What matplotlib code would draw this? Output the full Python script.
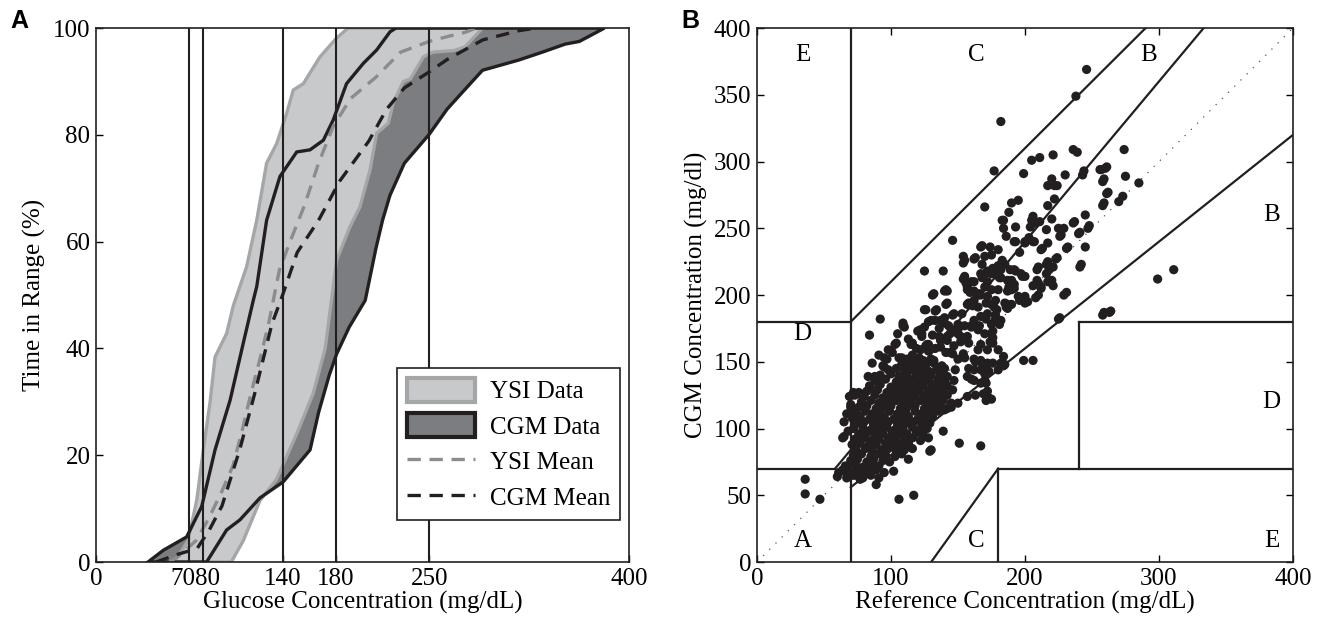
import numpy as np
import matplotlib
matplotlib.use("Agg")
import matplotlib.pyplot as plt
import matplotlib.transforms as mtransforms
from matplotlib.patches import Patch
from matplotlib.lines import Line2D

plt.rcParams['font.family'] = ['Liberation Serif', 'DejaVu Serif']
plt.rcParams['font.size'] = 18

# ---- panel A: cumulative time-in-range curves ----
ysi_hi_x = [59, 69, 75.6, 80.5, 85.6, 89.3, 98, 103, 113, 120.6, 128, 135.6, 143, 148, 155.6, 168, 180, 189]
ysi_hi_y = [0, 4, 11.6, 21, 30, 38.4, 42.8, 48, 55.3, 64, 74.7, 78.4, 84, 88.4, 89.6, 94.6, 98, 100]
ysi_lo_x = [101.5, 110.5, 123, 135.5, 150.6, 163, 172, 175.6, 180.6, 190.6, 198, 205.6, 210.6, 219.4, 223,
            230.6, 236, 245.6, 252.8, 268.7, 277, 290]
ysi_lo_y = [0, 4, 11.5, 15.5, 24, 31.6, 40, 47, 56.6, 62.8, 66.5, 73.4, 80.3, 82.2, 86, 90, 90.5, 94.6, 95.5,
            95.8, 96.5, 100]
cgm_hi_x = [39, 50.5, 68, 79.3, 89.3, 100.6, 110.5, 118, 120.6, 128, 138, 150.6, 160.6, 170.6, 178, 188,
            200.6, 210.6, 220.6, 225]
cgm_hi_y = [0, 2.2, 4.7, 10.4, 21, 30.3, 41, 49, 51.6, 64, 72.2, 76.8, 77.2, 79, 82.8, 89.6, 93.4, 95.9, 99.3, 100]
cgm_lo_x = [83, 98, 108, 123, 140.4, 160.6, 167, 175, 180.6, 190, 202, 210, 215, 220.6, 231.4, 250, 263.4,
            275, 290, 317, 335, 352, 362.7, 381.5]
cgm_lo_y = [0, 6, 7.9, 12, 15, 21, 28, 35, 39, 44, 49, 58.7, 64, 68.7, 74.7, 80.1, 84.8, 88, 92.1, 94, 95.5,
            97, 97.5, 100]
ysi_mean_x = [55, 62.5, 75, 84, 94, 102.7, 110, 116, 123, 129.5, 137.6, 145.6, 156.3, 167, 177.8, 191, 210,
              228.6, 250, 265, 277, 285]
ysi_mean_y = [0, 1.2, 4, 7.9, 13, 18, 25, 31.3, 38, 44.6, 54.7, 60, 66.7, 74.7, 81.5, 86.8, 90.8, 95.5, 97.5,
              98.5, 99.2, 100]
cgm_mean_x = [45, 62, 75.8, 85, 94.5, 108, 118.8, 132, 140, 151, 167, 183, 204.6, 218, 231.4, 250, 263.4,
              290.3, 317, 330]
cgm_mean_y = [0, 1.5, 2.5, 6, 10.5, 21.2, 31.3, 44.6, 50, 58, 64, 71.4, 78.8, 84.8, 88.8, 91.8, 94.1, 97.8,
              99.5, 100]
thresholds = [70, 80, 140, 180, 250]
a_xticks = [0, 70, 80, 140, 180, 250, 400]

# ---- panel B: Clarke error grid scatter (reference, cgm) ----
upper_pts = [(246, 369), (238, 349), (182, 330), (177, 293), (236, 309), (239, 307), (221, 305), (211, 303),
             (205, 301), (199, 291), (274, 309), (261, 296), (257, 294), (244, 293), (243, 290), (230, 290),
             (220, 287), (217, 282), (222, 282), (224, 282), (259, 287), (275, 289), (285, 284), (262, 277),
             (273, 274), (170, 266), (195, 271), (222, 272), (190, 269), (217, 267), (188, 262), (205, 256),
             (207, 255), (211, 255), (206, 259), (220, 257), (184, 256), (184, 250), (193, 251), (186, 244),
             (193, 240), (200, 240), (203, 243), (207, 240), (217, 239), (237, 255), (245, 260), (248, 252),
             (241, 247), (225, 250), (229, 250), (227, 245), (259, 269), (270, 270), (258, 267), (146, 241),
             (183, 256), (208, 254), (204, 251), (216, 249), (226, 244), (236, 254), (240, 246), (247, 250),
             (245, 236), (231, 235), (125, 218), (213, 235), (196, 232), (260, 295), (256, 294), (258, 285),
             (261, 276)]
mid_pts = [(139, 218), (174, 236), (180, 234), (168, 237), (170, 229), (163, 228), (155, 226), (183, 226),
           (185, 223), (182, 219), (177, 219), (175, 216), (170, 216), (168, 213), (172, 210), (181, 213),
           (190, 211), (193, 218), (197, 216), (200, 214), (192, 208), (190, 204), (195, 199), (200, 199),
           (175, 204), (170, 206), (162, 210), (155, 214), (156, 209), (157, 204), (165, 200), (141, 204),
           (210, 209), (212, 206), (220, 211), (210, 200), (231, 202), (224, 228), (217, 225), (242, 223),
           (210, 221), (218, 219), (232, 236), (241, 221), (223, 227), (221, 221), (216, 223), (216, 216),
           (217, 210), (221, 207), (209, 219), (209, 211), (212, 205), (206, 207), (208, 198), (200, 194),
           (198, 214), (192, 219), (192, 240), (200, 239), (206, 240), (212, 234), (188, 206), (186, 191),
           (175, 230), (167, 236), (162, 227), (168, 223), (154, 224), (176, 220), (179, 215), (180, 222),
           (154, 212), (159, 202), (162, 203), (166, 201), (172, 199), (157, 193), (161, 192), (175, 193),
           (178, 196), (160, 210), (157, 206), (167, 200), (162, 196), (158, 194), (165, 191), (171, 194),
           (180, 204), (187, 203), (192, 205), (185, 194), (187, 190), (187, 211), (167, 216), (172, 218),
           (189, 219), (154, 229), (182, 213)]
lower_mid_pts = [(171, 182), (178, 182), (175, 178), (160, 177), (166, 177), (155, 177), (147, 173), (140, 183),
                 (140, 179), (133, 181), (128, 180), (133, 188), (141, 193), (140, 203), (131, 200), (146, 185),
                 (150, 178), (152, 169), (150, 171), (142, 169), (142, 166), (136, 175), (136, 169), (126, 189),
                 (120, 173), (123, 169), (109, 177), (110, 176), (103, 163), (98, 159), (91, 155), (97, 152),
                 (95, 153), (94, 147), (106, 153), (115, 163), (116, 155), (112, 146), (118, 149), (121, 153),
                 (126, 162), (128, 163), (132, 151), (144, 157), (150, 152), (154, 156), (148, 144), (158, 145),
                 (162, 152), (160, 137), (168, 149), (171, 148), (170, 141), (171, 134), (163, 125), (169, 126),
                 (171, 121), (175, 171), (174, 165), (184, 154), (185, 148), (226, 183), (259, 187), (264, 188),
                 (187, 193), (190, 193), (196, 196), (202, 195), (177, 191), (178, 185), (182, 181), (181, 178),
                 (176, 168), (92, 182), (84, 170), (109, 179), (122, 174), (125, 189), (132, 201), (142, 203),
                 (142, 194), (134, 189), (130, 181), (137, 181), (147, 186), (104, 164), (116, 164), (123, 171),
                 (86, 149), (95, 146), (88, 139), (91, 134), (108, 153), (117, 153), (122, 159), (127, 163),
                 (128, 158), (133, 160), (137, 161), (141, 157), (146, 156), (155, 153), (163, 150), (167, 151),
                 (172, 149), (176, 149), (182, 149), (180, 144), (173, 143), (167, 144), (162, 144), (157, 139),
                 (162, 136), (167, 134), (170, 136), (172, 128), (173, 123), (157, 124), (150, 119), (145, 116),
                 (140, 114), (179, 189), (172, 186), (167, 184), (162, 181), (160, 176), (165, 174), (170, 171),
                 (176, 173), (153, 186), (176, 164), (167, 163), (165, 159), (172, 159), (180, 159), (157, 169),
                 (158, 164), (152, 165), (143, 177), (144, 171), (150, 174), (113, 167), (119, 160), (101, 157),
                 (131, 170), (137, 166), (147, 162), (125, 176), (105, 171)]
low_pts = [(36, 62), (36, 51), (47, 47), (106, 47), (117, 50), (299, 212), (311, 219), (258, 185), (263, 187),
           (225, 182), (199, 151), (206, 151), (184, 147), (151, 89), (167, 87), (129, 83), (139, 98), (229, 200),
           (175, 122), (89, 58), (91, 63), (102, 68), (113, 77), (130, 84), (128, 93), (122, 98), (61, 67),
           (68, 71), (67, 66), (71, 65), (75, 71), (77, 65), (77, 62), (82, 69), (86, 71), (65, 94), (68, 98),
           (67, 111), (70, 118), (77, 126), (73, 125), (85, 130), (91, 133), (64, 93), (65, 105), (70, 116),
           (69, 124), (72, 127), (76, 127), (83, 139)]
core_pts = [(60, 64), (67, 63), (73, 65), (79, 63), (85, 65),
            (64, 69), (70, 67), (77, 69), (82, 67), (89, 69), (95, 67),
            (66, 72), (73, 73), (79, 71), (86, 73), (91, 72),
            (70, 76), (75, 77), (82, 75), (87, 77), (94, 76), (99, 75),
            (72, 80), (78, 81), (85, 79), (90, 81), (96, 80), (103, 79), (108, 81),
            (74, 84), (81, 85), (86, 83), (93, 84), (98, 85), (104, 83), (110, 84), (116, 85),
            (71, 88), (77, 89), (83, 87), (89, 88), (96, 89), (101, 87), (107, 88), (113, 89),
            (73, 92), (80, 93), (85, 91), (91, 92), (98, 93), (103, 91), (110, 92), (116, 93), (122, 91),
            (76, 96), (82, 97), (88, 95), (94, 96), (101, 97), (106, 95), (112, 96), (119, 97), (124, 95),
            (72, 100), (79, 101), (85, 99), (91, 100), (97, 101), (103, 99), (109, 100), (116, 101),
            (121, 99), (127, 100),
            (74, 104), (80, 105), (87, 103), (92, 104), (98, 105), (105, 103), (111, 104), (117, 105),
            (123, 103), (129, 104),
            (71, 108), (77, 109), (84, 107), (89, 108), (95, 109), (102, 107), (107, 108), (113, 109),
            (120, 107), (125, 108), (131, 109),
            (74, 112), (81, 113), (86, 111), (92, 112), (99, 113), (105, 111), (111, 112), (118, 113),
            (123, 111), (129, 112), (135, 113),
            (76, 116), (82, 117), (89, 115), (94, 116), (100, 117), (107, 115), (112, 116), (118, 117),
            (125, 115), (130, 116), (136, 117), (142, 115),
            (78, 120), (85, 121), (91, 119), (97, 120), (104, 121), (109, 119), (115, 120), (122, 121),
            (127, 119), (133, 120), (139, 121), (145, 119),
            (80, 124), (88, 125), (94, 123), (100, 124), (107, 125), (112, 123), (118, 124), (125, 125),
            (130, 123), (136, 124), (142, 125),
            (82, 128), (90, 129), (97, 127), (103, 128), (110, 129), (115, 127), (121, 128), (128, 129),
            (133, 127), (139, 128), (146, 129),
            (84, 132), (92, 133), (100, 131), (106, 132), (113, 133), (118, 131), (124, 132), (131, 133),
            (136, 131), (142, 132),
            (88, 136), (96, 137), (104, 135), (110, 136), (117, 137), (122, 135), (128, 136), (135, 137),
            (140, 135), (147, 136),
            (92, 140), (100, 141), (106, 139), (112, 140), (119, 141), (124, 139), (130, 140), (137, 141),
            (142, 139),
            (98, 144), (104, 145), (110, 143), (116, 144), (123, 145), (128, 143), (134, 144), (140, 145),
            (108, 148), (114, 149), (120, 147), (126, 148), (132, 149), (138, 147),
            (112, 152), (118, 153), (124, 151), (130, 152)]
b_xticks = [0, 100, 200, 300, 400]
b_yticks = [0, 50, 100, 150, 200, 250, 300, 350, 400]
zone_labels = [('E', 34, 380), ('C', 164, 380), ('B', 292, 380), ('B', 384, 260), ('D', 34, 171),
               ('D', 384, 120), ('A', 34, 16), ('C', 164, 16), ('E', 384, 16)]

black = '#231f20'
light = '#c8c9cb'
light_edge = '#a4a6a8'
dark = '#7b7d80'
mid_gray = '#8a8c8e'

fig = plt.figure(figsize=(13.21, 6.23), dpi=100)
axA = fig.add_axes([0.0727, 0.0979, 0.4035, 0.857])
axB = fig.add_axes([0.573, 0.0979, 0.4058, 0.857])

# panel A
cgm_px = np.concatenate([cgm_hi_x, cgm_lo_x[::-1]])
cgm_py = np.concatenate([cgm_hi_y, cgm_lo_y[::-1]])
ysi_px = np.concatenate([ysi_hi_x, ysi_lo_x[::-1]])
ysi_py = np.concatenate([ysi_hi_y, ysi_lo_y[::-1]])
axA.fill(cgm_px, cgm_py, facecolor=dark, edgecolor='none', zorder=1)
axA.fill(ysi_px, ysi_py, facecolor=light, edgecolor=light_edge, lw=2.4, zorder=2)
axA.fill(cgm_px, cgm_py, facecolor='none', edgecolor=black, lw=2.4, zorder=3)
axA.plot(ysi_mean_x, ysi_mean_y, color=mid_gray, lw=2.4, dashes=(4, 2.6), zorder=4)
axA.plot(cgm_mean_x, cgm_mean_y, color=black, lw=2.4, dashes=(4, 2.6), zorder=4)
for t in thresholds:
    axA.axvline(t, color=black, lw=1.5, zorder=5)

axA.set_xlim(0, 400)
axA.set_ylim(0, 100)
axA.set_xticks(a_xticks)
axA.set_xticklabels([str(v) for v in a_xticks])
axA.set_yticks([0, 20, 40, 60, 80, 100])
axA.tick_params(direction='in', length=5, width=1, top=False, right=False, pad=4)
axA.set_xlabel('Glucose Concentration (mg/dL)', labelpad=1)
axA.set_ylabel('Time in Range (%)', labelpad=5)
for s in axA.spines.values():
    s.set_linewidth(1.2)
    s.set_color(black)
    s.set_zorder(6)

# nudge the crowded 70 / 80 labels apart
lbls = axA.get_xticklabels()
for lb, dx in [(lbls[1], -6), (lbls[2], 5)]:
    lb.set_transform(lb.get_transform() + mtransforms.ScaledTranslation(dx / 100, 0, fig.dpi_scale_trans))

handles = [Patch(facecolor=light, edgecolor=light_edge, lw=3),
           Patch(facecolor=dark, edgecolor=black, lw=3),
           Line2D([], [], color=mid_gray, lw=2.4, dashes=(4, 2.6)),
           Line2D([], [], color=black, lw=2.4, dashes=(4, 2.6))]
leg = axA.legend(handles, ['YSI Data', 'CGM Data', 'YSI Mean', 'CGM Mean'], loc='lower right',
                 bbox_to_anchor=(0.983, 0.079), borderaxespad=0, fancybox=False, framealpha=1,
                 edgecolor=black, handlelength=2.7, handleheight=1.1, labelspacing=0.4,
                 handletextpad=0.6, borderpad=0.4, fontsize=18)
leg.get_frame().set_linewidth(1.2)
leg.set_zorder(10)

# panel B: Clarke error grid
pts = upper_pts + mid_pts + lower_mid_pts + low_pts + core_pts
ref_vals = [p[0] for p in pts]
cgm_vals = [p[1] for p in pts]

axB.plot([0, 400], [0, 400], color='#555555', lw=0.9, ls=(0, (1, 6)), zorder=1)
grid_lines = [([0, 58.33], [70, 70]), ([58.33, 333.3], [70, 400]), ([70, 400], [56, 320]),
              ([70, 70], [0, 400]), ([0, 70], [180, 180]), ([70, 290], [180, 400]),
              ([130, 180], [0, 70]), ([180, 180], [0, 70]), ([180, 400], [70, 70]),
              ([240, 240], [70, 180]), ([240, 400], [180, 180])]
for gx, gy in grid_lines:
    axB.plot(gx, gy, color=black, lw=1.6, zorder=2)
axB.scatter(ref_vals, cgm_vals, s=44, color=black, edgecolors='none', zorder=3)
for txt, tx, ty in zone_labels:
    axB.text(tx, ty, txt, ha='center', va='center', fontsize=18)

axB.set_xlim(0, 400)
axB.set_ylim(0, 400)
axB.set_xticks(b_xticks)
axB.set_yticks(b_yticks)
axB.tick_params(direction='in', length=5, width=1, top=True, right=True, pad=4)
axB.set_xlabel('Reference Concentration (mg/dL)', labelpad=1)
axB.set_ylabel('CGM Concentration (mg/dl)', labelpad=4)
for s in axB.spines.values():
    s.set_linewidth(1.2)
    s.set_color(black)

fig.text(0.008, 0.967, 'A', fontsize=18, fontweight='bold', family=['Liberation Sans', 'DejaVu Sans'],
         ha='left', va='center')
fig.text(0.516, 0.967, 'B', fontsize=18, fontweight='bold', family=['Liberation Sans', 'DejaVu Sans'],
         ha='left', va='center')

fig.savefig('out.png', dpi=100)
